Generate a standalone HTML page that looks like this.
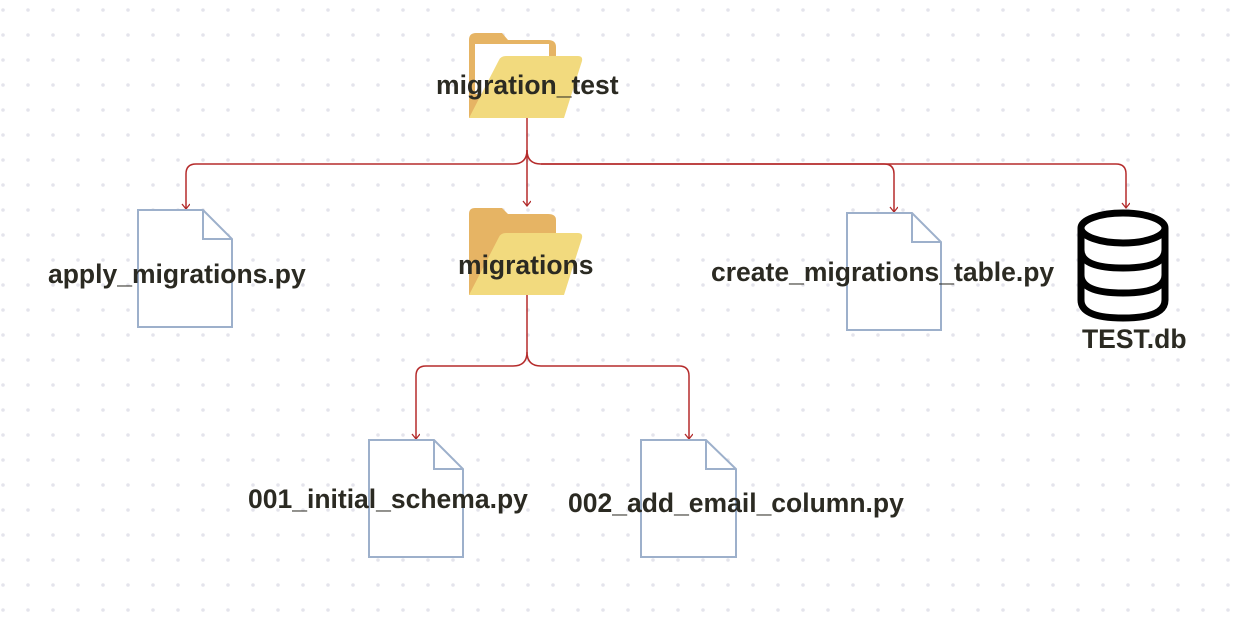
<!DOCTYPE html>
<html><head><meta charset="utf-8"><style>
html,body{margin:0;padding:0;background:#fff;}
svg{display:block}
text{font-family:"Liberation Sans",sans-serif;font-weight:bold;fill:#2b2a22;font-size:26.5px;}
</style></head><body>
<svg width="1248" height="620" viewBox="0 0 1248 620" xmlns="http://www.w3.org/2000/svg">
<defs>
<pattern id="dots" x="3" y="10" width="25" height="25" patternUnits="userSpaceOnUse">
<circle cx="0" cy="0" r="1.8" fill="#e4e4ec"/><circle cx="25" cy="0" r="1.8" fill="#e4e4ec"/><circle cx="0" cy="25" r="1.8" fill="#e4e4ec"/><circle cx="25" cy="25" r="1.8" fill="#e4e4ec"/>
</pattern>
<marker id="ar" markerWidth="8" markerHeight="10" refX="6" refY="4" orient="auto" markerUnits="userSpaceOnUse">
<path d="M1,0 L6,4 L1,8" fill="none" stroke="#b02a2a" stroke-width="1.3"/>
</marker>
</defs>
<rect width="1248" height="620" fill="url(#dots)"/>

<g fill="none" stroke="#b52b2b" stroke-width="1.5">
<path d="M527,118 V206" marker-end="url(#ar)"/>
<path d="M527,150 Q527,164 513,164 H196 Q186,164 186,174 V209" marker-end="url(#ar)"/>
<path d="M527,150 Q527,164 541,164 H884 Q894,164 894,174 V212" marker-end="url(#ar)"/>
<path d="M541,164 H1116 Q1126,164 1126,174 V208" marker-end="url(#ar)"/>
<path d="M527,295 V352 Q527,366 513,366 H426 Q416,366 416,376 V439" marker-end="url(#ar)"/>
<path d="M527,352 Q527,366 541,366 H679 Q689,366 689,376 V439" marker-end="url(#ar)"/>
</g>

<g>
<path d="M469,40 Q469,33 476,33 H502 L508,40 H548 Q556,40 556,47 V60 L469,118 Z" fill="#e6b464"/>
<rect x="475" y="44" width="74" height="50" fill="#fff"/>
<path d="M469,40 V118 L475,118 L475,44 Z" fill="#e6b464"/>
<path d="M499,60 Q501,56 506,56 H578 Q583,56 582,61 L564,118 H469 Z" fill="#f2da7e"/>
</g>
<g>
<path d="M469,214 Q469,208 475,208 H502 L508,214 H548 Q556,214 556,220 V240 L469,295 Z" fill="#e6b464"/>
<path d="M499,237 Q501,233 506,233 H578 Q583,233 582,238 L564,295 H469 Z" fill="#f2da7e"/>
</g>

<g fill="#fff" stroke="#9db0cb" stroke-width="2">
<path d="M138,210 H203 L232,239 V327 H138 Z"/><path d="M203,210 V239 H232" fill="none"/>
<path d="M847,213 H912 L941,242 V330 H847 Z"/><path d="M912,213 V242 H941" fill="none"/>
<path d="M369,440 H434 L463,469 V557 H369 Z"/><path d="M434,440 V469 H463" fill="none"/>
<path d="M641,440 H706 L736,469 V557 H641 Z"/><path d="M706,440 V469 H736" fill="none"/>
</g>

<g fill="#fff" stroke="#000" stroke-width="7">
<path d="M1081,228 V300 Q1081,318 1123,318 Q1165,318 1165,300 V228"/>
<ellipse cx="1123" cy="228" rx="42" ry="15"/>
<path d="M1081,250 Q1081,268 1123,268 Q1165,268 1165,250" fill="none"/>
<path d="M1081,275 Q1081,293 1123,293 Q1165,293 1165,275" fill="none"/>
</g>

<text x="436" y="94">migration_test</text>
<text x="458" y="274">migrations</text>
<text x="48" y="283">apply_migrations.py</text>
<text x="711" y="281">create_migrations_table.py</text>
<text x="1082" y="348">TEST.db</text>
<text x="248" y="508">001_initial_schema.py</text>
<text x="568" y="512">002_add_email_column.py</text>
</svg>
</body></html>
